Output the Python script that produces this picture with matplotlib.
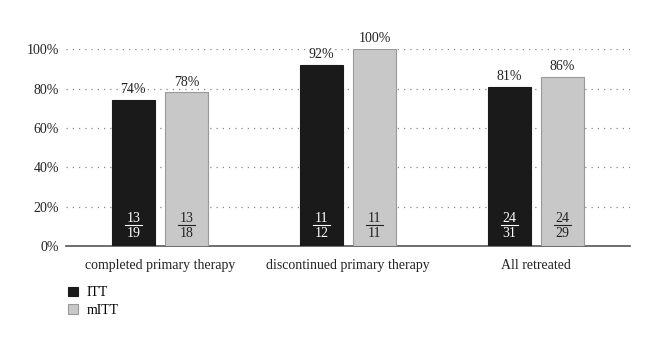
import matplotlib
matplotlib.use('Agg')
import matplotlib.pyplot as plt
import numpy as np

categories = ['completed primary therapy', 'discontinued primary therapy', 'All retreated']
itt_pct = [74, 92, 81]
mitt_pct = [78, 100, 86]
itt_num = [13, 11, 24]
itt_den = [19, 12, 31]
mitt_num = [13, 11, 24]
mitt_den = [18, 11, 29]
yticks = [0, 20, 40, 60, 80, 100]

plt.rcParams['font.family'] = ['Liberation Serif', 'DejaVu Serif']

fig = plt.figure(figsize=(6.6, 3.51), dpi=100)
ax = fig.add_axes([0.1, 0.299, 0.8545, 0.561])

x = np.arange(len(categories)) + 0.5
w = 0.229
off = 0.142

b1 = ax.bar(x - off, itt_pct, w, color='#1a1a1a', edgecolor='#1a1a1a', linewidth=0.8, label='ITT', zorder=3)
b2 = ax.bar(x + off, mitt_pct, w, color='#c8c8c8', edgecolor='#999999', linewidth=0.8, label='mITT', zorder=3)

def label_bars(xs, pcts, nums, dens, color):
    for xi, p, n, d in zip(xs, pcts, nums, dens):
        ax.text(xi, p + 2, f'{p}%', ha='center', va='bottom', fontsize=10, color='#222222', clip_on=False)
        ax.text(xi, 14.2, str(n), ha='center', va='center', fontsize=10, color=color, zorder=4)
        ax.text(xi, 6.6, str(d), ha='center', va='center', fontsize=10, color=color, zorder=4)
        ax.plot([xi - 0.045, xi + 0.045], [10.6, 10.6], color=color, lw=0.8, zorder=4)

label_bars(x - off, itt_pct, itt_num, itt_den, 'white')
label_bars(x + off, mitt_pct, mitt_num, mitt_den, '#222222')

ax.set_xlim(0, 3)
ax.set_ylim(0, 100)
ax.set_yticks(yticks)
ax.set_yticklabels([f'{t}%' for t in yticks], fontsize=10, color='#222222')
ax.set_xticks(x)
ax.set_xticklabels(categories, fontsize=10, color='#222222')
ax.tick_params(axis='both', length=0)
ax.tick_params(axis='x', pad=9)
ax.tick_params(axis='y', pad=5)

for t in yticks[1:]:
    ax.axhline(t, color='#888888', lw=0.9, ls=(0, (1, 4)), zorder=1)

for s in ['top', 'left', 'right']:
    ax.spines[s].set_visible(False)
ax.spines['bottom'].set_color('#555555')
ax.spines['bottom'].set_linewidth(1.2)

fig.legend(handles=[b1, b2], loc='upper left', bbox_to_anchor=(0.095, 0.2),
           frameon=False, fontsize=10, handlelength=0.7, handleheight=0.7,
           handletextpad=0.6, labelspacing=0.35, borderaxespad=0)

fig.savefig('out.png', dpi=100)
